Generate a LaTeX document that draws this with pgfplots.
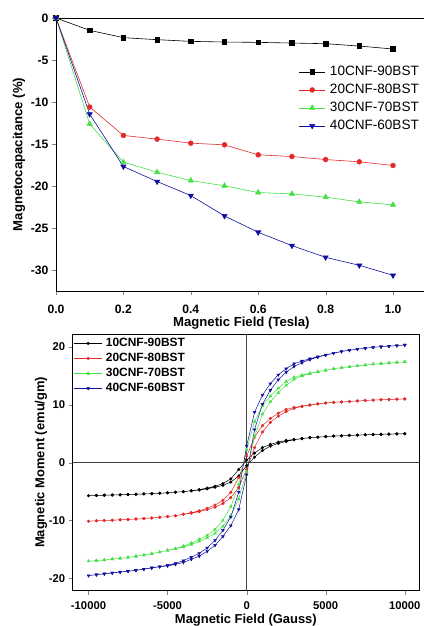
\documentclass[border=0pt]{standalone}
\usepackage{pgfplots}
\pgfplotsset{compat=1.18}
\usepackage{fontspec}
\setmainfont{Liberation Sans}
\definecolor{cred}{HTML}{E42A2A}
\definecolor{cgreen}{HTML}{44E044}
\definecolor{cblue}{HTML}{1010A0}
\begin{document}
\begin{tikzpicture}
% ---------------- top panel ----------------
\begin{axis}[
  at={(56bp,-18bp)}, anchor=north west,
  scale only axis, width=370.7bp, height=273bp,
  xmin=0, xmax=1.1, ymin=-32.5, ymax=0,
  axis x line*=box, axis y line*=left,
  xtick pos=bottom, ytick pos=left,
  tick align=outside, major tick length=4bp,
  xtick={0,0.2,0.4,0.6,0.8,1.0},
  ytick={0,-5,-10,-15,-20,-25,-30},
  /pgf/number format/assume math mode=true,
  xticklabel style={yshift=-6bp,/pgf/number format/.cd,fixed,fixed zerofill,precision=1},
  ticklabel style={font=\bfseries\fontsize{12.2}{13}\selectfont},
  xlabel={Magnetic Field (Tesla)},
  ylabel={Magnetocapacitance (\%)},
  label style={font=\bfseries\fontsize{13.2}{14}\selectfont},
  xlabel style={yshift=3bp},
  ylabel style={yshift=-1bp},
  axis line style={line width=1pt},
  legend cell align=left,
  legend style={draw=none, fill=none, at={(rel axis cs:0.652,0.834)}, anchor=north west,
    font=\fontsize{13.6}{14}\selectfont, row sep=3bp, inner sep=1bp,
    nodes={inner xsep=4.5bp}},
  legend image code/.code={\draw[mark repeat=2,mark phase=2] plot coordinates {(0bp,0bp)(13bp,0bp)(26bp,0bp)};},
]
\addplot[black, line width=0.6pt, mark=square*, mark size=2.3pt] coordinates {
(0,0)(0.1,-1.47)(0.2,-2.34)(0.3,-2.58)(0.4,-2.78)(0.5,-2.86)(0.6,-2.9)(0.7,-2.98)(0.8,-3.06)(0.9,-3.34)(1.0,-3.69)};
\addlegendentry{10CNF-90BST}
\addplot[cred, line width=0.6pt, mark=*, mark size=2.4pt] coordinates {
(0,0)(0.1,-10.6)(0.2,-13.98)(0.3,-14.42)(0.4,-14.9)(0.5,-15.1)(0.6,-16.29)(0.7,-16.49)(0.8,-16.85)(0.9,-17.12)(1.0,-17.56)};
\addlegendentry{20CNF-80BST}
\addplot[cgreen, line width=0.6pt, mark=triangle*, mark size=3pt] coordinates {
(0,0)(0.1,-12.63)(0.2,-17.16)(0.3,-18.36)(0.4,-19.35)(0.5,-19.98)(0.6,-20.78)(0.7,-20.94)(0.8,-21.33)(0.9,-21.89)(1.0,-22.25)};
\addlegendentry{30CNF-70BST}
\addplot[cblue, line width=0.6pt, mark=triangle*, mark size=3pt, mark options={rotate=180}] coordinates {
(0,0)(0.1,-11.44)(0.2,-17.68)(0.3,-19.47)(0.4,-21.14)(0.5,-23.56)(0.6,-25.51)(0.7,-27.1)(0.8,-28.49)(0.9,-29.44)(1.0,-30.63)};
\addlegendentry{40CNF-60BST}
\end{axis}
% ---------------- bottom panel ----------------
\begin{axis}[
  at={(72.7bp,-334bp)}, anchor=north west,
  scale only axis, width=346.3bp, height=256.7bp,
  xmin=-11000, xmax=10900, ymin=-22.1, ymax=22.2,
  tick align=outside, major tick length=4bp,
  xtick pos=bottom, ytick pos=left,
  xtick={-10000,-5000,0,5000,10000},
  ytick={-20,-10,0,10,20},
  scaled x ticks=false,
  /pgf/number format/assume math mode=true,
  /pgf/number format/1000 sep={},
  ticklabel style={font=\bfseries\fontsize{11.3}{12}\selectfont},
  xticklabel style={yshift=-3bp},
  xlabel={Magnetic Field (Gauss)},
  ylabel={Magnetic Moment (emu/gm)},
  label style={font=\bfseries\fontsize{13}{14}\selectfont},
  xlabel style={yshift=2bp},
  ylabel style={yshift=-5bp},
  axis line style={line width=1pt},
  legend cell align=left,
  legend style={draw=none, fill=none, at={(rel axis cs:0.0,0.995)}, anchor=north west,
    font=\bfseries\fontsize{12}{13}\selectfont, row sep=1.2bp, inner sep=1bp,
    nodes={inner xsep=3.5bp}},
  legend image code/.code={\draw[mark repeat=2,mark phase=2] plot coordinates {(0bp,0bp)(14bp,0bp)(28bp,0bp)};},
]
\draw[black!75, line width=0.8pt] (axis cs:0,-22.1) -- (axis cs:0,22.2);
\draw[black!75, line width=0.8pt] (axis cs:-11000,0) -- (axis cs:10900,0);
\addplot[black, line width=0.5pt, mark=*, mark size=1.3pt] coordinates {
(10000,5.0)(9500,4.96)(9000,4.92)(8500,4.89)(8000,4.85)(7500,4.8)(7000,4.75)(6500,4.7)(6000,4.65)(5500,4.58)(5000,4.5)(4500,4.4)(4000,4.3)(3500,4.15)(3000,4.0)(2500,3.83)(2000,3.54)(1500,3.15)(1000,2.6)(500,1.65)(0,0.45)(-500,-1.2)(-1000,-2.8)(-1500,-3.62)(-2000,-4.06)(-2500,-4.39)(-3000,-4.66)(-3500,-4.85)(-4000,-5.0)(-4500,-5.1)(-5000,-5.2)(-5500,-5.28)(-6000,-5.35)(-6500,-5.4)(-7000,-5.45)(-7500,-5.5)(-8000,-5.55)(-8500,-5.58)(-9000,-5.62)(-9500,-5.66)(-10000,-5.7)
(-9500,-5.66)(-9000,-5.62)(-8500,-5.58)(-8000,-5.55)(-7500,-5.5)(-7000,-5.45)(-6500,-5.4)(-6000,-5.35)(-5500,-5.28)(-5000,-5.2)(-4500,-5.1)(-4000,-5.0)(-3500,-4.86)(-3000,-4.72)(-2500,-4.53)(-2000,-4.24)(-1500,-3.92)(-1000,-3.35)(-500,-2.3)(0,-0.5)(500,0.95)(1000,2.1)(1500,2.85)(2000,3.33)(2500,3.66)(3000,3.95)(3500,4.14)(4000,4.3)(4500,4.4)(5000,4.5)(5500,4.58)(6000,4.65)(6500,4.7)(7000,4.75)(7500,4.8)(8000,4.85)(8500,4.89)(9000,4.92)(9500,4.96)(10000,5.0)};
\addlegendentry{10CNF-90BST}
\addplot[cred, line width=0.5pt, mark=*, mark size=1.3pt] coordinates {
(10000,11.0)(9500,10.95)(9000,10.9)(8500,10.85)(8000,10.8)(7500,10.72)(7000,10.65)(6500,10.55)(6000,10.48)(5500,10.4)(5000,10.3)(4500,10.15)(4000,9.95)(3500,9.75)(3000,9.53)(2500,9.18)(2000,8.54)(1500,7.63)(1000,6.38)(500,4.38)(0,1.14)(-500,-2.58)(-1000,-5.12)(-1500,-6.5)(-2000,-7.32)(-2500,-7.88)(-3000,-8.31)(-3500,-8.62)(-4000,-8.9)(-4500,-9.15)(-5000,-9.3)(-5500,-9.42)(-6000,-9.55)(-6500,-9.65)(-7000,-9.73)(-7500,-9.8)(-8000,-9.87)(-8500,-9.93)(-9000,-9.98)(-9500,-10.03)(-10000,-10.1)
(-9500,-10.03)(-9000,-9.98)(-8500,-9.93)(-8000,-9.87)(-7500,-9.8)(-7000,-9.73)(-6500,-9.65)(-6000,-9.55)(-5500,-9.42)(-5000,-9.3)(-4500,-9.15)(-4000,-8.93)(-3500,-8.72)(-3000,-8.46)(-2500,-8.12)(-2000,-7.68)(-1500,-7.04)(-1000,-6.02)(-500,-4.32)(0,-1.14)(500,2.58)(1000,5.3)(1500,6.94)(2000,8.03)(2500,8.82)(3000,9.38)(3500,9.7)(4000,9.93)(4500,10.12)(5000,10.3)(5500,10.4)(6000,10.48)(6500,10.55)(7000,10.65)(7500,10.72)(8000,10.8)(8500,10.85)(9000,10.9)(9500,10.95)(10000,11.0)};
\addlegendentry{20CNF-80BST}
\addplot[cgreen, line width=0.5pt, mark=triangle*, mark size=1.6pt] coordinates {
(10000,17.4)(9500,17.3)(9000,17.2)(8500,17.1)(8000,17.0)(7500,16.85)(7000,16.7)(6500,16.55)(6000,16.4)(5500,16.2)(5000,15.95)(4500,15.7)(4000,15.43)(3500,15.11)(3000,14.72)(2500,14.0)(2000,12.82)(1500,11.48)(1000,9.8)(500,7.08)(0,2.22)(-500,-3.76)(-1000,-7.6)(-1500,-9.96)(-2000,-11.54)(-2500,-12.56)(-3000,-13.22)(-3500,-13.88)(-4000,-14.4)(-4500,-14.82)(-5000,-15.12)(-5500,-15.45)(-6000,-15.7)(-6500,-15.95)(-7000,-16.15)(-7500,-16.35)(-8000,-16.5)(-8500,-16.65)(-9000,-16.8)(-9500,-16.9)(-10000,-17.0)
(-9500,-16.9)(-9000,-16.8)(-8500,-16.65)(-8000,-16.5)(-7500,-16.35)(-7000,-16.15)(-6500,-15.95)(-6000,-15.7)(-5500,-15.45)(-5000,-15.14)(-4500,-14.87)(-4000,-14.56)(-3500,-14.12)(-3000,-13.58)(-2500,-12.98)(-2000,-12.2)(-1500,-10.98)(-1000,-9.16)(-500,-6.28)(0,-1.56)(500,4.5)(1000,8.36)(1500,10.52)(2000,12.04)(2500,13.34)(3000,14.36)(3500,14.96)(4000,15.38)(4500,15.68)(5000,15.95)(5500,16.2)(6000,16.4)(6500,16.55)(7000,16.7)(7500,16.85)(8000,17.0)(8500,17.1)(9000,17.2)(9500,17.3)(10000,17.4)};
\addlegendentry{30CNF-70BST}
\addplot[cblue, line width=0.5pt, mark=triangle*, mark size=1.6pt, mark options={rotate=180}] coordinates {
(10000,20.3)(9500,20.2)(9000,20.1)(8500,20.0)(8000,19.9)(7500,19.75)(7000,19.6)(6500,19.4)(6000,19.2)(5500,18.9)(5000,18.6)(4500,18.28)(4000,17.93)(3500,17.54)(3000,17.08)(2500,16.2)(2000,15.16)(1500,13.64)(1000,11.66)(500,8.7)(0,2.9)(-500,-5.08)(-1000,-9.36)(-1500,-11.66)(-2000,-13.42)(-2500,-14.7)(-3000,-15.66)(-3500,-16.32)(-4000,-16.9)(-4500,-17.38)(-5000,-17.7)(-5500,-17.94)(-6000,-18.14)(-6500,-18.37)(-7000,-18.57)(-7500,-18.72)(-8000,-18.87)(-8500,-19.02)(-9000,-19.17)(-9500,-19.32)(-10000,-19.5)
(-9500,-19.34)(-9000,-19.19)(-8500,-19.04)(-8000,-18.9)(-7500,-18.74)(-7000,-18.59)(-6500,-18.39)(-6000,-18.18)(-5500,-17.97)(-5000,-17.82)(-4500,-17.55)(-4000,-17.22)(-3500,-16.68)(-3000,-16.14)(-2500,-15.3)(-2000,-14.26)(-1500,-12.74)(-1000,-10.86)(-500,-8.08)(0,-2.08)(500,5.7)(1000,10.1)(1500,12.5)(2000,14.32)(2500,15.6)(3000,16.6)(3500,17.24)(4000,17.78)(4500,18.2)(5000,18.55)(5500,18.88)(6000,19.17)(6500,19.4)(7000,19.6)(7500,19.75)(8000,19.9)(8500,20.0)(9000,20.1)(9500,20.2)(10000,20.3)};
\addlegendentry{40CNF-60BST}
\end{axis}
\pgfresetboundingbox
\path[use as bounding box] (0bp,0bp) rectangle (424bp,-626bp);
\end{tikzpicture}
\end{document}
